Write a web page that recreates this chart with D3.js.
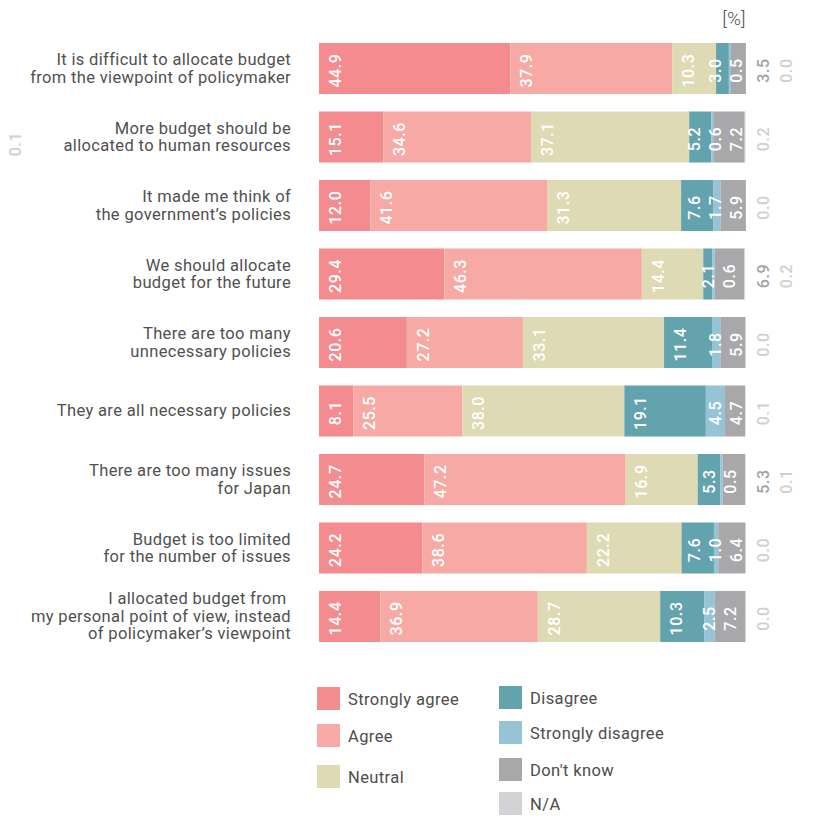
<!DOCTYPE html>
<html>
<head>
<meta charset="utf-8">
<script src="https://cdn.jsdelivr.net/npm/d3@7"></script>
<style>
  html, body { margin: 0; padding: 0; background: #fff; }
  svg { display: block; }
  text { font-family: Roboto, "DejaVu Sans", sans-serif; }
</style>
</head>
<body>
<svg id="chart" width="824" height="816"></svg>
<script>
// ---------------- data ----------------
const categories = [
  ["It is difficult to allocate budget", "from the viewpoint of policymaker"],
  ["More budget should be", "allocated to human resources"],
  ["It made me think of", "the government\u2019s policies"],
  ["We should allocate", "budget for the future"],
  ["There are too many", "unnecessary policies"],
  ["They are all necessary policies"],
  ["There are too many issues", "for Japan"],
  ["Budget is too limited", "for the number of issues"],
  ["I allocated budget from ", "my personal point of view, instead", "of policymaker\u2019s viewpoint"]
];
const seriesNames = ["Strongly agree", "Agree", "Neutral", "Disagree", "Strongly disagree", "Don't know", "N/A"];
const stronglyAgree    = [44.9, 15.1, 12.0, 29.4, 20.6,  8.1, 24.7, 24.2, 14.4];
const agree            = [37.9, 34.6, 41.6, 46.3, 27.2, 25.5, 47.2, 38.6, 36.9];
const neutral          = [10.3, 37.1, 31.3, 14.4, 33.1, 38.0, 16.9, 22.2, 28.7];
const disagree         = [ 3.0,  5.2,  7.6,  2.1, 11.4, 19.1,  5.3,  7.6, 10.3];
const stronglyDisagree = [ 0.5,  0.6,  1.7,  0.6,  1.8,  4.5,  0.5,  1.0,  2.5];
const dontKnow         = [ 3.5,  7.2,  5.9,  6.9,  5.9,  4.7,  5.3,  6.4,  7.2];
const notAnswered      = [ 0.0,  0.2,  0.0,  0.2,  0.0,  0.1,  0.1,  0.0,  0.0];
const strayLabels      = [{ row: 1, text: "0.1" }];
const unitLabel = "[%]";

// ---------------- style ----------------
const colors = ["#f48c8f", "#f7aaa5", "#dedab3", "#63a3ae", "#96c4d6", "#a8a8ab", "#d3d3d5"];
const outsideLabelColors = { 5: "#a3a3a6", 6: "#d0d0d2" };

const seriesValues = [stronglyAgree, agree, neutral, disagree, stronglyDisagree, dontKnow, notAnswered];
const rows = categories.map((c, i) => {
  const r = { idx: i };
  seriesNames.forEach((s, k) => r[s] = seriesValues[k][i]);
  return r;
});

const svg = d3.select("#chart");
const x = d3.scaleLinear().domain([0, 100]).range([319, 745.5]);
const y = d3.scaleBand().domain(d3.range(categories.length)).range([43, 642]).paddingInner(0.255).paddingOuter(0);
const bandH = y.bandwidth();

const stack = d3.stack().keys(seriesNames);
const stacked = stack(rows);

// bars
const g = svg.append("g");
stacked.forEach((layer, k) => {
  g.append("g").attr("fill", colors[k])
    .selectAll("rect").data(layer).join("rect")
    .attr("x", d => x(d[0]))
    .attr("width", d => Math.max(0, x(d[1]) - x(d[0])))
    .attr("y", (d, i) => y(i))
    .attr("height", bandH);
});

// value labels
const gap = 21, maxX = x(100) - 9;
const labelG = svg.append("g");
const valueFont = { size: 16, weight: 500, spacing: 0.6 };
function valueText(tx, ty, fill, str) {
  labelG.append("text")
    .attr("transform", `translate(${tx},${ty}) rotate(-90)`)
    .attr("text-anchor", "middle").attr("dy", "0.36em")
    .attr("fill", fill).attr("font-size", valueFont.size)
    .attr("font-weight", valueFont.weight).attr("letter-spacing", valueFont.spacing)
    .text(str);
}
rows.forEach((r, i) => {
  const cy = y(i) + bandH / 2 + 2;
  let inside = [];
  for (let k = 0; k < 6; k++) {
    const s = x(stacked[k][i][0]), e = x(stacked[k][i][1]);
    inside.push({ k, v: seriesValues[k][i], start: s, desired: Math.min(s + 16, (s + e) / 2) });
  }
  const outside = [];
  let p = -Infinity, last = 0;
  inside.forEach(l => { p = Math.max(l.start, p + gap); last = p; });
  if (last > maxX) outside.push(inside.pop());
  outside.push({ k: 6, v: seriesValues[6][i] });
  p = -Infinity;
  inside.forEach(l => { l.x = Math.max(l.desired, p + gap); p = l.x; });
  for (let j = inside.length - 1; j >= 0; j--) {
    const lim = j === inside.length - 1 ? maxX : inside[j + 1].x - gap;
    inside[j].x = Math.min(inside[j].x, lim);
  }
  inside.forEach(l => valueText(l.x, cy, "#fff", l.v.toFixed(1)));
  outside.forEach((l, j) => valueText(x(100) + 18 + j * 23, cy, outsideLabelColors[l.k], l.v.toFixed(1)));
});

// stray label at far left
strayLabels.forEach(s => valueText(15, y(s.row) + bandH / 2 + 7, outsideLabelColors[6], s.text));

// category labels
const catG = svg.append("g");
categories.forEach((lines, i) => {
  const cy = y(i) + bandH / 2;
  const n = lines.length;
  const t = catG.append("text").attr("text-anchor", "end").attr("fill", "#505050")
    .attr("font-size", 16.5).attr("letter-spacing", 0.35);
  lines.forEach((ln, j) => {
    t.append("tspan").attr("x", 291).attr("y", cy + 5.5 + (j - (n - 1) / 2) * 17.5).text(ln);
  });
});

// unit label
svg.append("text").attr("x", x(100)).attr("y", 25).attr("text-anchor", "end")
  .attr("fill", "#555").attr("font-size", 19).attr("font-weight", 300).text(unitLabel);

// legend
const legendLayout = [
  { col: 0, y: 687 }, { col: 0, y: 724 }, { col: 0, y: 765 },
  { col: 1, y: 686 }, { col: 1, y: 721 }, { col: 1, y: 758 }, { col: 1, y: 792 }
];
const colX = [317, 499];
const legG = svg.append("g");
seriesNames.forEach((name, k) => {
  const L = legendLayout[k];
  legG.append("rect").attr("x", colX[L.col]).attr("y", L.y).attr("width", 23).attr("height", 23).attr("fill", colors[k]);
  legG.append("text").attr("x", colX[L.col] + 31).attr("y", L.y + 17.5)
    .attr("fill", "#4d4d4d").attr("font-size", 16.5).attr("letter-spacing", 0.4).text(name);
});
</script>
</body>
</html>
